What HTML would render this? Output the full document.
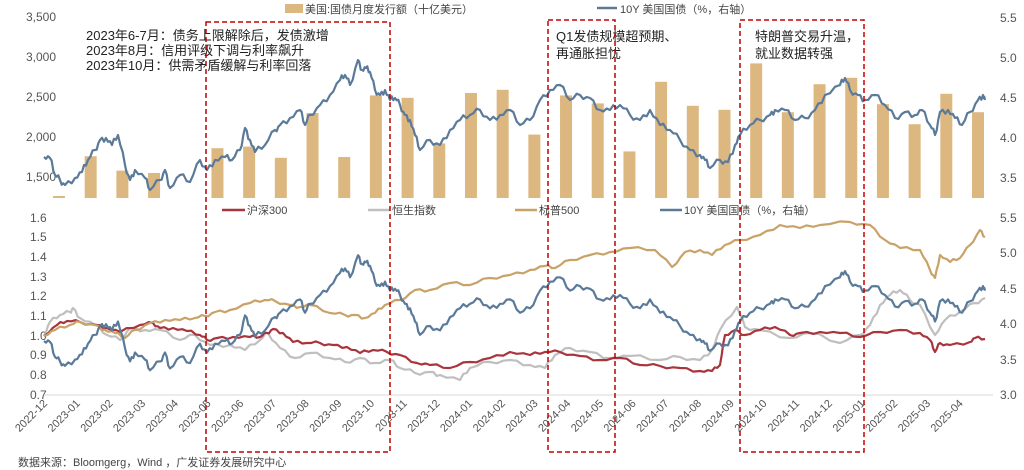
<!DOCTYPE html>
<html><head><meta charset="utf-8"><style>
body{margin:0;background:#fff}
svg{display:block;font-family:"Liberation Sans","Noto Sans CJK SC",sans-serif}
</style></head><body>
<svg id="s" width="1024" height="470" viewBox="0 0 1024 470" xmlns="http://www.w3.org/2000/svg">
<g font-size="12" fill="#555">
<text x="56" y="21" text-anchor="end">3,500</text>
<text x="56" y="61" text-anchor="end">3,000</text>
<text x="56" y="101" text-anchor="end">2,500</text>
<text x="56" y="141" text-anchor="end">2,000</text>
<text x="56" y="181" text-anchor="end">1,500</text>
<text x="1000" y="22">5.5</text><text x="1000" y="62">5.0</text><text x="1000" y="102">4.5</text><text x="1000" y="142">4.0</text><text x="1000" y="182">3.5</text>
<text x="30" y="222">1.6</text><text x="30" y="241">1.5</text><text x="30" y="261">1.4</text><text x="30" y="281">1.3</text><text x="30" y="300">1.2</text><text x="30" y="320">1.1</text><text x="30" y="340">1.0</text><text x="30" y="359">0.9</text><text x="30" y="379">0.8</text><text x="30" y="399">0.7</text>
<text x="1000" y="222">5.5</text><text x="1000" y="257">5.0</text><text x="1000" y="293">4.5</text><text x="1000" y="328">4.0</text><text x="1000" y="364">3.5</text><text x="1000" y="399">3.0</text>
</g>
<line x1="44" y1="395" x2="993" y2="395" stroke="#d9d9d9"/>
<g id="bars" fill="#dcb880"></g>
<g id="lines" fill="none" stroke-width="2.2" stroke-linejoin="round"></g>
<g id="xl" font-size="11" fill="#555"></g>
<g font-size="11" fill="#444">
<rect x="285" y="4" width="18" height="9" fill="#dcb880"/><text x="305" y="13">美国:国债月度发行额（十亿美元）</text>
<line x1="597" y1="8" x2="617" y2="8" stroke="#5b7a99" stroke-width="2.5"/><text x="620" y="13">10Y 美国国债（%，右轴）</text>
<line x1="222" y1="210" x2="245" y2="210" stroke="#a8343c" stroke-width="2.5"/><text x="247" y="214">沪深300</text>
<line x1="368" y1="210" x2="390" y2="210" stroke="#bfbfbf" stroke-width="2.5"/><text x="392" y="214">恒生指数</text>
<line x1="515" y1="210" x2="537" y2="210" stroke="#c9a268" stroke-width="2.5"/><text x="539" y="214">标普500</text>
<line x1="660" y1="210" x2="682" y2="210" stroke="#5b7a99" stroke-width="2.5"/><text x="684" y="214">10Y 美国国债（%，右轴）</text>
</g>
<g font-size="13" fill="#222">
<text x="86" y="40">2023年6-7月：债务上限解除后，发债激增</text>
<text x="86" y="55">2023年8月：信用评级下调与利率飙升</text>
<text x="86" y="70">2023年10月：供需矛盾缓解与利率回落</text>
<text x="556" y="41">Q1发债规模超预期、</text>
<text x="556" y="58">再通胀担忧</text>
<text x="755" y="41">特朗普交易升温，</text>
<text x="755" y="58">就业数据转强</text>
</g>
<g fill="none" stroke="#c00000" stroke-width="1.5" stroke-dasharray="5,3">
<rect x="206" y="22" width="184" height="430"/>
<rect x="548" y="20" width="67" height="432"/>
<rect x="740" y="20" width="124" height="432"/>
</g>
<text x="18" y="466" font-size="11" fill="#444">数据来源：Bloomgerg，Wind ，广发证券发展研究中心</text>
</svg>
<script>
var NS="http://www.w3.org/2000/svg";
function el(t,a,p){var e=document.createElementNS(NS,t);for(var k in a)e.setAttribute(k,a[k]);document.getElementById(p).appendChild(e);return e;}
var bv=[1230,1760,1580,1550,0,1860,1880,1740,2300,1750,2520,2490,1920,2550,2590,2030,2520,2420,1820,2690,2390,2340,2920,2310,2660,2740,2410,2160,2540,2310];
bv.forEach(function(v,k){if(!v)return;var x=59+k*31.69,y=197-(v-1250)*0.08;if(y>196)y=196;el("rect",{x:x-6,y:y,width:12,height:198-y},"bars");});
var Y=[44,157,50,158,55,175,60,180,65,185,75,178,82,172,88,160,95,150,100,140,106,138,112,145,118,135,125,165,130,180,135,170,145,178,150,190,160,180,165,170,170,188,180,175,190,182,200,160,207,170,215,160,225,157,232,160,240,150,245,128,250,140,255,152,265,145,275,130,280,125,290,118,300,110,305,125,310,115,320,105,330,95,340,80,345,75,350,85,358,60,362,70,366,68,370,72,375,90,380,95,385,90,390,100,395,98,400,105,405,115,410,120,415,135,420,150,430,140,440,145,450,130,460,120,470,115,480,110,490,120,500,115,510,110,520,125,530,120,540,100,550,90,560,85,570,100,580,95,590,98,600,110,610,110,620,105,630,115,640,120,650,110,660,125,670,130,680,140,690,150,700,155,705,160,710,168,720,160,728,162,735,145,740,135,750,125,760,120,770,115,775,110,785,110,795,120,805,118,815,110,825,95,840,85,845,78,850,90,858,95,865,100,875,95,885,105,895,118,905,112,915,115,922,110,930,125,935,135,940,112,948,110,955,118,962,125,970,112,978,100,983,95,985,100];
function jit(a,amp,tr){var d="",n=a.length/2;for(var i=0;i<n;i++){var x=a[2*i],y=tr(a[2*i+1]);d+=(i?"L":"M")+x+","+y.toFixed(1);if(i<n-1){var x2=a[2*i+2],y2=tr(a[2*i+3]);for(var t=1;t<3;t++){var f=t/3;d+="L"+(x+(x2-x)*f).toFixed(1)+","+(y+(y2-y)*f+((i*7+t*13)%5-2)*amp).toFixed(1);}}}return d;}
var id=function(v){return v};
var R=[44,336,57,325,67,321,80,322,97,325,107,328,120,332,140,325,153,323,160,328,173,328,187,331,200,335,207,340,217,338,233,337,250,337,260,337,267,333,273,329,283,333,293,342,307,343,320,343,333,345,347,347,360,353,373,350,387,352,400,355,417,363,430,365,450,368,470,362,490,358,510,352,530,355,545,352,560,352,580,356,600,360,620,358,640,365,660,366,680,368,700,371,712,371,720,365,725,335,735,330,745,335,760,330,775,327,790,335,800,333,820,332,840,333,860,337,880,332,900,330,920,333,930,340,935,352,940,343,950,345,970,342,975,338,985,339];
var G=[44,336,50,322,60,315,70,312,73,308,80,318,95,325,107,335,120,340,130,328,145,330,160,330,180,340,195,335,210,345,230,345,245,350,260,340,268,333,280,348,295,358,310,353,330,358,345,362,360,358,375,363,390,360,400,368,415,373,430,372,440,375,460,380,470,368,490,362,510,360,530,365,545,368,555,355,570,348,590,352,610,358,630,356,660,360,680,357,700,360,712,350,720,330,737,307,745,327,760,330,790,338,810,333,840,343,860,335,870,325,880,305,890,295,900,290,910,300,920,305,935,335,945,320,960,312,975,303,985,298];
var S=[44,336,55,330,70,325,80,322,95,325,105,330,115,333,125,338,135,330,150,323,165,320,180,320,195,318,205,316,215,312,230,310,250,303,265,300,275,301,290,305,300,307,310,305,330,313,345,315,355,315,365,318,375,313,385,305,400,300,415,290,430,290,450,283,470,285,490,278,510,275,530,270,545,266,555,268,570,260,590,255,610,252,630,248,655,250,672,267,685,252,700,250,712,255,725,245,740,240,760,235,780,225,800,228,820,225,850,222,870,225,885,240,900,248,920,250,930,270,935,278,940,255,950,262,960,258,970,245,980,230,985,237];
el("path",{d:jit(Y,1.5,id),stroke:"#5b7a99"},"lines");
el("path",{d:jit(G,1,id),stroke:"#bfbfbf"},"lines");
el("path",{d:jit(R,0.8,id),stroke:"#a8343c"},"lines");
el("path",{d:jit(S,0.8,id),stroke:"#c9a268"},"lines");
el("path",{d:jit(Y,1.3,function(y){return 218+(y-18)*0.885}),stroke:"#5b7a99"},"lines");
for(var m=0;m<29;m++){var yr=2022+Math.floor((m+11)/12),mo=(m+11)%12+1;var x=44+m*32.7;var t=el("text",{x:x+4,y:404,"text-anchor":"end",transform:"rotate(-45 "+(x+4)+" 404)"},"xl");t.textContent=yr+"-"+(mo<10?"0":"")+mo;}
</script>
</body></html>
